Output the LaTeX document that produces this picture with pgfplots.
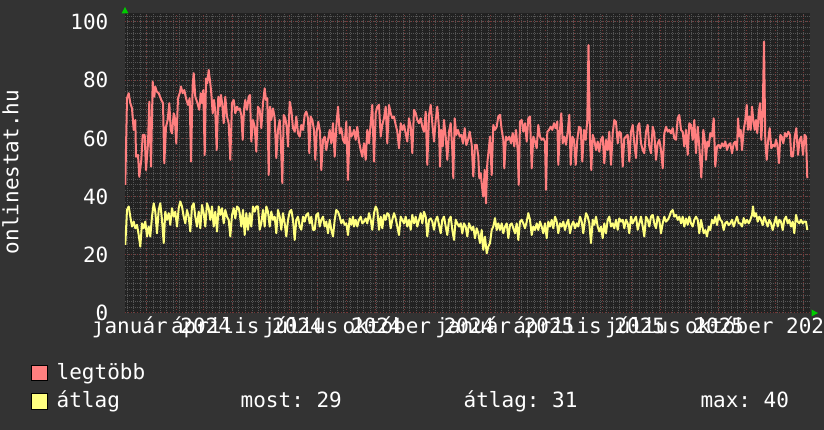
\documentclass[border=0pt]{standalone}
\usepackage{fontspec}
\setmainfont{DejaVu Sans Mono}
\usepackage{pgfplots}
\pgfplotsset{compat=1.18}
\definecolor{outerbg}{HTML}{333333}
\definecolor{plotbg}{HTML}{222222}
\definecolor{mgrid}{HTML}{753535}
\definecolor{sgrid}{HTML}{555555}
\definecolor{redline}{HTML}{FF7F7F}
\definecolor{yelline}{HTML}{FFFF7F}
\definecolor{arrowgreen}{HTML}{00CC00}
\newcommand{\rrdfont}{\fontsize{21pt}{21pt}\selectfont}
\frenchspacing
\begin{document}
\frenchspacing
\begin{tikzpicture}[x=1pt,y=1pt]
\fill[outerbg] (0,0) rectangle (824,430);
\useasboundingbox (0,0) rectangle (824,430);
\begin{axis}[
  at={(125pt,117pt)}, anchor=south west,
  scale only axis, width=685pt, height=299.5pt,
  xmin=0, xmax=685, ymin=0, ymax=102.9,
  axis line style={draw=none},
  axis background/.style={fill=plotbg},
  /pgf/number format/assume math mode=true,
  xtick={22,51.1,78.3,107.4,135.5,164.6,192.7,221.8,250.9,279,308.1,336.2,365.3,394.4,420.7,449.7,477.9,506.9,535.1,564.2,593.2,621.4,650.5,678.6},
  xticklabels={},
  minor xtick={2.3,8.866,...,684},
  ytick={0,20,...,100},
  minor ytick={2,4,...,102},
  grid=both,
  major grid style={mgrid, line width=1pt, dash pattern=on 1pt off 2pt},
  minor grid style={sgrid, line width=1pt, dash pattern=on 1pt off 1pt},
  tick style={draw=none},
  extra x ticks={36.5,121.9,207.2,293.5,379.8,464.2,549.6,635.9},
  extra x tick labels={január 2024,április 2024,július 2024,október 2024,január 2025,április 2025,július 2025,október 2025},
  extra x tick style={grid=none, tick style={draw=none}},
  xticklabel style={font=\rrdfont\frenchspacing, text=white, anchor=base, inner sep=0pt, yshift=-20.3pt},
  yticklabel style={font=\rrdfont, text=white, anchor=east, inner sep=0pt, xshift=-16.5pt},
  ylabel={onlinestat.hu},
  every axis y label/.style={at={(axis description cs:-0.1555,0.4708)}, rotate=90, anchor=base, font=\rrdfont, text=white},
]
\addplot[redline, line width=2pt, line join=round] table {
x y
0.3 44
2 73.8
3.7 75.5
5.3 72.1
7 70.3
8.7 62.9
10.3 66.3
11 53.7
13 54.3
14.3 46.8
16.3 52.6
17.7 61.2
19.7 61.2
21 49.1
23 58.3
24.3 72.6
26 50.3
27.7 79.5
29.3 74.3
30.3 77.8
31.7 76.1
33.7 75.5
36.3 73.2
38 72.1
39.3 51.4
41 64
42.7 66.3
44.3 72.1
45.7 62.9
47 61.7
48.7 68.6
49.7 67.5
51.3 58.3
53 73.8
54.7 75.5
56 77.8
57.7 75.5
59.3 76.6
61 73.8
63 71.5
64.7 73.8
66 52
67.7 78.4
68.7 82.4
70.3 74.3
72 72.6
74.3 69.8
75.7 75.5
77 72.1
78.3 76.6
79.7 54.3
81 80.6
82.3 78.9
83.7 83.5
85.3 78.9
86.3 75.5
87.7 68.6
89 73.2
90.3 69.2
91.7 56
93.3 74.3
94.7 70.9
96 74.9
97.3 71.5
98.7 65.2
100.3 74.3
102 67.5
103.7 65.2
105.3 52.6
107 72.1
108.7 73.2
110.3 68.6
112 70.9
113 69.8
114.7 70.3
116.3 68
117.7 59.5
119 69.8
120.3 73.2
122 69.8
123.7 74.3
125 74.9
126.3 58.9
128 66.3
129.7 64
131.3 55.4
133 70.9
134.7 69.8
136.3 63.5
138 72.1
139.7 77.2
141 73.2
142.3 73.8
143.7 47.4
145 70.9
146.3 66.3
148 70.3
149.7 66.9
151.3 53.2
153 62.9
154.7 66.3
155.7 60
157.3 44.6
158.7 68
160.3 66.9
161.7 64
163 57.2
164.7 72.6
166.3 69.8
168 63.5
169.7 62.3
171.3 67.5
173 61.7
174.7 60.6
176.3 64.6
178 62.9
179.7 68
181.3 69.2
183 66.9
184.3 54.9
185.7 67.5
187.3 66.3
189 62.9
190.3 52.6
191.7 62.3
193.3 65.7
195 62.3
196.3 49.1
198 59.5
199.7 60.6
201.3 56
203 59.5
204.7 62.9
206.3 58.3
208 65.2
209.7 53.7
211.3 64
213 70.9
214.7 61.7
216.3 63.5
218 59.5
219.7 58.3
221.3 65.7
223 45.7
224.7 64
226.3 60.6
228 61.7
229 62.9
230.7 59.5
232.3 64
234 58.9
235.7 56
237.3 53.7
239 58.3
240.7 52.6
242.3 62.9
244 58.3
245.7 65.2
247.3 71.5
249 52
250.7 68.6
252.3 70.9
254 71.5
255.7 60.6
257.3 64.6
259 66.9
260.7 70.9
262.3 58.3
264 71.5
265.7 68.6
267.3 66.9
269 67.5
270.7 64.6
272.3 62.3
274 56.6
275.7 65.2
277.3 62.9
279 64.6
280.7 61.7
282.3 58.9
284 66.9
285.7 64
287.3 54.9
289 69.8
290.7 68.6
292.3 66.3
294 65.2
295.7 66.9
297.3 64
299 62.3
300.7 69.2
302.3 50.9
304 68
305.7 71.5
307.3 65.2
309 58.9
310.7 66.3
312.3 70.9
314 63.5
315 50.3
316.3 62.9
317.7 57.2
319 66.3
320.7 60.6
322.3 52.6
324 62.3
325.7 65.2
327.3 56
328.3 46.3
329.7 66.9
331.3 61.2
333 62.9
334.7 60.6
336.3 61.2
338 58.3
339.7 63.5
341.3 57.7
343 59.5
344.7 62.3
346.7 57.8
348.3 46.9
350 57.8
351.7 57.8
353.3 53.8
354.3 46.3
355.7 48
357 43.4
358.3 40
359.7 49.2
361 37.7
362.3 51.5
363.7 56
365 60.6
366.7 47.4
368.3 64.6
370 62.9
371.7 64
373.3 67.5
375 68.1
376.7 62.9
378.3 59.5
379.3 49.7
381 60.6
382.7 59.5
384.3 60.6
386 58.3
387.7 61.8
389.3 57.2
391 62.9
392.7 56
393.7 44
395 65.8
396.7 66.3
398.3 62.3
400 65.2
401.7 58.9
403.3 66.9
405 67.5
406.7 49.7
408.3 60.6
410 58.9
411.7 56.6
413.3 64.6
415 60.6
416.7 59.5
418.3 60
420 58.9
421 42.3
422.3 62.3
424 62.9
425.7 64
427.3 62.9
429 65.2
430.7 63.5
432.3 65.8
433.3 50.9
435 62.9
436.3 68.6
437.7 58.3
439.3 60.6
441 57.8
442.7 62.3
444.3 68.1
445.7 50.9
447.3 60.6
449 59.5
450.7 50.9
452.3 59.5
454 64
455.7 63.5
457.3 52
459 62.9
460.7 59.5
462.3 66.3
463.5 92
465 59.5
466.3 49.1
467.7 61.2
469.3 59.5
471 56
472.7 58.9
474.3 55.4
476 59.5
477.7 60.6
479.3 51.4
481 59.5
482.7 56
484.3 62.3
486 50.9
487.7 61.7
489.3 66.3
491 65.7
492.7 58.3
494.3 62.3
496 61.7
497.7 50.3
499.3 60
501 60.6
502.7 61.2
504.3 52
506 62.3
507.7 64.6
509.3 58.3
511 53.2
512.7 64
514.3 65.2
516 58.3
517.7 56
519.3 54.9
521 62.3
522.7 64.6
524.3 57.2
526 54.9
527.7 64
529.3 61.7
531 52.6
532.7 58.3
534.3 59.5
536 56
537.7 49.7
539.3 61.7
541 64
542.7 62.3
544.3 62.9
546 61.7
547.7 63.5
549.3 60
551 59.5
552.7 66.9
554.3 68
556 62.9
557.7 62.3
559.3 57.2
561 62.9
562.7 54.3
564.3 65.2
566 64.6
567.7 59.5
569.3 66.3
571 54.9
572.7 64
574.3 57.2
576.3 46.5
578.3 62.9
579.7 59.5
581 52.6
582.3 58.9
583.7 57.2
585.3 61.8
587 60.6
588.7 66.9
590.3 50.3
592 57.2
593.7 57.8
595.3 56.6
597 58.3
598.7 57.2
600.3 58.9
602 56
603.7 57.8
605.3 58.3
607 54.9
608.7 58.3
610.3 58.9
612 56
613 66.9
614.3 60.6
615.7 62.9
617 56
618.7 62.9
620.3 66.3
621.7 71.5
623 62.9
624.3 67.5
625.7 62.9
627 70.9
628.3 66.3
629.7 62.9
631 66.3
632.3 61.8
633.7 68.6
635 72.1
636.3 59.5
637.7 68.6
639 93.2
640.3 58.9
641.7 52.6
643 58.9
644.7 63.5
646.3 56.6
648 57.8
649.7 57.2
651 59.5
652.3 57.8
654 51.5
655.3 61.2
656.7 60.6
658.3 58.3
660 61.8
661.7 60.6
663.3 62.3
665 61.2
666.3 53.8
668 53.8
669.7 60.6
671.3 63.5
673 54.3
674.7 59.5
676.3 60.6
678 54.3
679.7 61.2
681 60.6
682.3 46.3
};
\addplot[yelline, line width=2pt, line join=round] table {
x y
0.3 23.4
2 35.4
3.7 36.6
5.3 33.1
7 29.7
8.7 31.4
10.3 29.1
12 30.3
13.7 26.8
15.3 22.8
17 30.8
18.7 29.1
20.3 31.4
22 26.3
23.7 29.7
25.3 26.3
27 33.1
28.7 37.7
30.3 34.8
32 27.4
33.7 35.4
35.3 37.7
37 32
38.7 24
40.3 34.8
42 32
43.7 34.3
45.3 30.3
47 36
48.7 33.1
50.3 34.8
52 29.7
53.7 36
55.3 38.3
57 36.6
58.7 33.1
60.3 30.8
62 35.4
63.7 33.1
65.3 28
67 36.6
68.7 37.7
70.3 33.1
72 29.7
73.7 34.8
75.3 29.1
77 37.1
78.7 34.3
80.3 29.7
82 37.7
83.7 36
85.3 32
87 36.6
88.7 29.7
90.3 34.8
92 28
93.7 36.6
95.3 33.7
97 36
98.7 30.8
100.3 35.4
102 33.1
103.7 32
105.3 26.3
107 33.7
108.7 36
110.3 32.5
112 36.6
113.7 36
114.7 34.3
116.3 29.7
118 35.4
119.7 26.8
121.3 34.3
123 28.6
124.7 34.3
126.3 29.7
128 36.6
129.7 34.8
131.3 36.6
133 36.6
134.7 28.6
136.3 30.8
138 35.4
139.7 29.7
141.3 36.6
143 34.8
144.7 29.7
146.3 34.8
148 32
149.7 33.1
151.3 27.4
153 35.4
154.7 33.1
156.3 28.6
158 34.3
159.7 30.8
161.3 26.3
163 32
164.7 34.8
166.3 35.4
168 32
169.7 25.1
171.3 32
173 33.1
174.7 29.7
176.3 28.6
178 33.1
179.7 31.4
181.3 33.7
183 34.3
184.7 30.8
186.3 33.1
188 28.6
189.7 28.6
191.3 33.7
193 34.3
194.7 29.7
196.3 32
198 33.1
199.7 29.7
201.3 31.4
203 27.4
204.7 32
206.3 28.6
208 26.3
209.7 32
211.3 35.4
213 34.8
214.7 33.1
216.3 30.8
218 32
219.7 30.3
221.3 30.8
223 26.8
224.7 32.5
226.3 30.3
228 33.1
229 29.7
230.7 32
232.3 29.7
234 32
235.7 33.1
237.3 30.8
239 31.4
240.7 32.5
242.3 30.8
244 34.3
245.7 32
247.3 28.6
249 34.3
250.7 36.6
252.3 35.4
254 28.6
255.7 33.1
257.3 29.1
259 33.7
260.7 32
262.3 34.3
264 33.7
265.7 29.1
267.3 32
269 34.3
270.7 32.5
272.3 29.7
274 26.8
275.7 33.1
277.3 32
279 30.8
280.7 33.1
282.3 29.7
284 32
285.7 28.6
287.3 33.7
289 30.8
290.7 33.1
292.3 29.7
294 32
295.7 34.3
297.3 30.8
299 34.8
300.7 33.1
302.3 26.3
304 32
305.7 32.5
307.3 31.4
309 28.6
310.7 32
312.3 33.1
314 30.3
315.7 27.4
317.3 32
319 33.1
320.7 29.7
322.3 26.8
324 32
325.7 33.1
327.3 28.6
329 25.1
330.7 32
332.3 30.8
334 29.7
335.7 30.8
337.3 27.4
339 30.8
340.7 29.7
342.3 26.3
344 30.8
346.7 28.5
348.3 29.7
350 25.7
351.7 29.1
353.3 27.4
355 24
356.7 28.5
358.3 21.7
360 26.2
361.7 20.5
363.3 22.8
365 24
366.7 28.5
368.3 29.7
370 32.6
371.7 28.5
373.3 30.8
375 28.5
376.7 30.8
378.3 27.4
380 29.7
381.7 30.8
383.3 25.7
385 30.2
386.7 30.8
388.3 29.1
390 27.4
391.7 30.8
393.3 25.1
395 31.4
396.7 32
398.3 30.8
400 29.1
401.7 31.4
403.3 34.3
405 32
406.7 26.8
408.3 29.7
410 28.5
411.7 30.8
413.3 28.5
415 31.4
416.7 29.7
418.3 27.4
420 30.8
421.7 25.7
423.3 31.4
425 29.7
426.7 32
428.3 29.1
430 33.1
431.7 31.4
433.3 27.4
435 30.8
436.7 29.7
438.3 31.4
440 28.5
441.7 30.8
443.3 32
445 27.4
446.7 30.2
448.3 31.4
450 29.1
451.7 30.8
453.3 29.7
455 33.1
456.7 31.4
458.3 27.4
460 32
461 34.3
462.7 33.1
464.3 30.8
466 24
467.7 32
469.3 30.3
471 33.1
472.7 29.7
474.3 28
476 29.7
477.7 25.7
479.3 30.8
481 27.4
482.7 32
484.3 33.1
486 29.7
487.7 30.8
489.3 29.1
491 32
492.7 28.6
494.3 32.5
496 31.4
497.7 32
499.3 29.1
501 32
502.7 30.8
504.3 27.4
506 33.1
507.7 30.8
509.3 32
511 33.1
512.7 28.6
514.3 30.8
516 33.1
517.7 29.7
519.3 26.3
521 33.1
522.7 32
524.3 29.7
526 33.1
527.7 33.7
529.3 30.8
531 29.1
532.7 33.1
534.3 32
536 27.4
537.7 30.8
539.3 33.1
541 31.4
542.7 32
544.3 33.1
546 34.8
547.7 35.4
549.3 33.1
551 33.7
552.7 32
554.3 33.1
556 30.8
557.7 33.1
559.3 29.7
561 32.5
562.7 30.3
564.3 33.1
566 30.8
567.7 29.7
569.3 32
571 33.1
572.7 32
574.3 27.4
576 32
578.7 27.4
580.3 28.5
582 26.3
583.7 29.7
585.3 28.5
587 32
588.7 30.8
590.3 33.1
592 30.2
593.7 33.7
595.3 32
597 31.4
598.7 28.5
600.3 30.8
602 31.4
603.7 30.2
605.3 30.8
607 32
608.7 29.7
610.3 31.4
612 33.1
613.7 30.8
615.3 30.8
617 29.7
618.7 32.6
620.3 30.8
622 32
623.7 30.8
625.3 32
627 33.7
628 36.6
629.3 33.1
631 34.3
632.7 31.4
634.3 33.1
636 32
637.7 30.2
639.3 33.1
641 31.4
642.7 29.7
644.3 32
646 30.8
647.7 28.5
649.3 30.8
651 33.1
652.7 29.7
654.3 32
656 31.4
657.7 28.5
659.3 32
661 33.1
662.7 30.8
664.3 32
666 29.7
667.7 31.4
669.3 27.4
671 33.7
672.7 31.4
674.3 30.8
676 32
677.7 30.8
679.3 31.4
681 31.4
682.3 28.5
};
\end{axis}
% axis arrows
\fill[arrowgreen] (125,423) -- (121.5,416.5) -- (128.5,416.5) -- cycle;
\fill[arrowgreen] (818,117) -- (811.5,113.5) -- (811.5,120.5) -- cycle;
% legend
\filldraw[fill=redline, draw=black, line width=1pt] (31.5,49) rectangle (47.3,64);
\filldraw[fill=yelline, draw=black, line width=1pt] (31.5,20.7) rectangle (47.3,36.7);
\node[anchor=base west, inner sep=0pt, text=white, font=\rrdfont] at (56.5,50) {legtöbb};
\node[anchor=base west, inner sep=0pt, text=white, font=\rrdfont] at (56.5,22.7) {átlag};
\node[anchor=base west, inner sep=0pt, text=white, font=\rrdfont] at (240.5,22.7) {most: 29};
\node[anchor=base west, inner sep=0pt, text=white, font=\rrdfont] at (463.5,22.7) {átlag: 31};
\node[anchor=base west, inner sep=0pt, text=white, font=\rrdfont] at (700.3,22.7) {max: 40};
\end{tikzpicture}
\end{document}
